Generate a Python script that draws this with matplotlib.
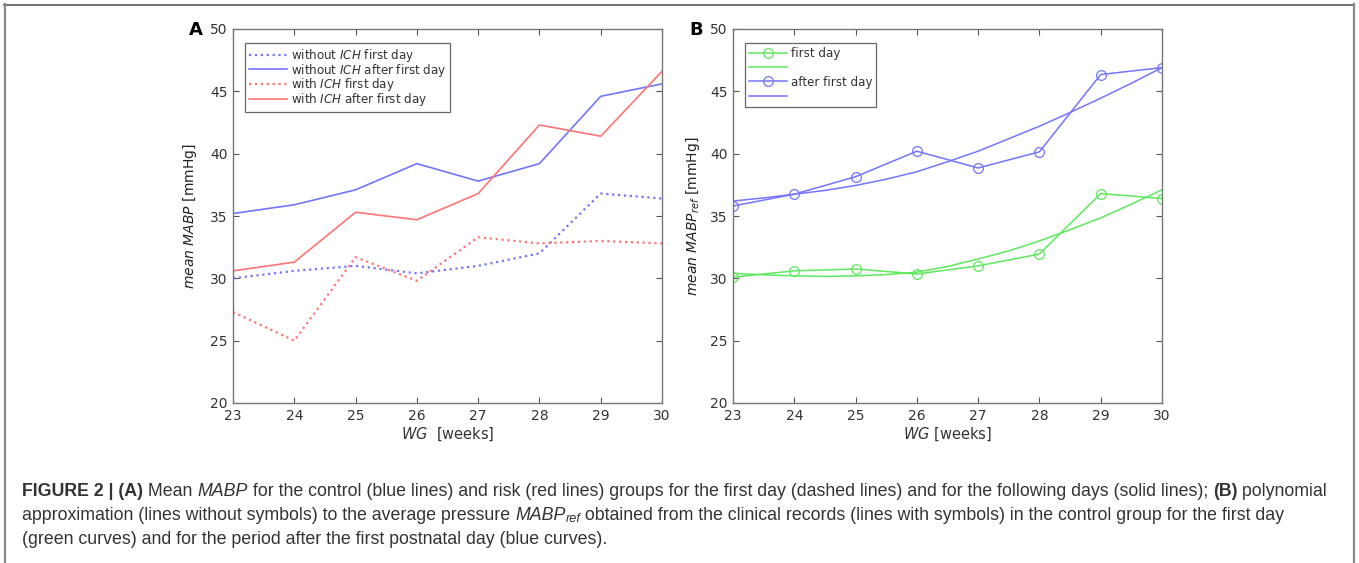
import matplotlib
matplotlib.use("Agg")
import matplotlib.pyplot as plt
from matplotlib.lines import Line2D

plt.rcParams["mathtext.fontset"] = "dejavusans"

W, H = 1359, 563

weeks = [23, 24, 25, 26, 27, 28, 29, 30]

# panel A
noICH_first = [30.0, 30.6, 31.0, 30.4, 31.0, 32.0, 36.8, 36.4]
noICH_after = [35.2, 35.9, 37.1, 39.2, 37.8, 39.2, 44.6, 45.6]
ICH_first = [27.3, 25.0, 31.7, 29.8, 33.3, 32.8, 33.0, 32.8]
ICH_after = [30.6, 31.3, 35.3, 34.7, 36.8, 42.3, 41.4, 46.6]

# panel B: clinical records and polynomial approximation
ref_first = [30.1, 30.6, 30.75, 30.35, 31.0, 31.95, 36.8, 36.4]
ref_after = [35.8, 36.75, 38.15, 40.2, 38.85, 40.15, 46.35, 46.9]
fit_weeks = [23, 23.5, 24, 24.5, 25, 25.5, 26, 26.5, 27, 27.5, 28, 28.5, 29, 29.5, 30]
fit_first = [30.4, 30.28, 30.2, 30.15, 30.2, 30.3, 30.5, 30.95, 31.55, 32.2, 33.0,
             33.9, 34.85, 35.95, 37.1]
fit_after = [36.2, 36.45, 36.75, 37.05, 37.45, 37.95, 38.55, 39.35, 40.2, 41.2, 42.2,
             43.3, 44.45, 45.65, 46.9]

BLUE = "#7474ff"
RED = "#ff7474"
GREEN = "#5ee85e"
AXC = "#555555"
TXT = "#333333"

fig = plt.figure(figsize=(W / 100, H / 100), dpi=100)


def px_axes(x0, x1, y0, y1):
    return fig.add_axes([x0 / W, 1 - y1 / H, (x1 - x0) / W, (y1 - y0) / H])


def style(ax):
    ax.set_xlim(23, 30)
    ax.set_ylim(20, 50)
    ax.set_xticks(weeks)
    ax.set_yticks([20, 25, 30, 35, 40, 45, 50])
    ax.tick_params(direction="in", top=True, right=True, length=4, width=0.8,
                   colors=AXC, labelcolor=TXT, labelsize=10, pad=4)
    for s in ax.spines.values():
        s.set_color("#777777")
        s.set_linewidth(1.0)


def legend(ax, spacing):
    leg = ax.legend(loc="upper left", bbox_to_anchor=(0.028, 0.962), fontsize=8.6,
                    frameon=True, fancybox=False, borderpad=0.3, labelspacing=spacing,
                    handlelength=3.2, handletextpad=0.35, borderaxespad=0)
    leg.get_frame().set_edgecolor("#444444")
    leg.get_frame().set_linewidth(0.9)
    for t in leg.get_texts():
        t.set_color(TXT)


axA = px_axes(233, 662, 29, 403)
axA.plot(weeks, noICH_first, ":", color=BLUE, lw=1.6, label="without $\\it{ICH}$ first day")
axA.plot(weeks, noICH_after, "-", color=BLUE, lw=1.2, label="without $\\it{ICH}$ after first day")
axA.plot(weeks, ICH_first, ":", color=RED, lw=1.6, label="with $\\it{ICH}$ first day")
axA.plot(weeks, ICH_after, "-", color=RED, lw=1.2, label="with $\\it{ICH}$ after first day")
style(axA)
legend(axA, -0.18)
axA.set_xlabel("$\\it{WG}$  [weeks]", fontsize=10.5, color=TXT, labelpad=2)
axA.set_ylabel("$\\it{mean\\ MABP}$ [mmHg]", fontsize=10, color="#222222", labelpad=8)

axB = px_axes(733, 1162, 29, 403)
axB.plot(weeks, ref_first, "-o", color=GREEN, lw=1.1, ms=7, mfc="none", mew=0.9,
         label="first day")
axB.plot(fit_weeks, fit_first, "-", color=GREEN, lw=1.1, label=" ")
axB.plot(weeks, ref_after, "-o", color=BLUE, lw=1.1, ms=7, mfc="none", mew=0.9,
         label="after first day")
axB.plot(fit_weeks, fit_after, "-", color=BLUE, lw=1.1, label="  ")
style(axB)
legend(axB, 0.12)
axB.set_xlabel("$\\it{WG}$ [weeks]", fontsize=10.5, color=TXT, labelpad=2)
axB.set_ylabel("$\\it{mean\\ MABP_{ref}}$ [mmHg]", fontsize=10, color="#222222", labelpad=6)

fig.text(189 / W, 1 - 30 / H, "A", fontsize=13, fontweight="bold", va="center")
fig.text(689 / W, 1 - 30 / H, "B", fontsize=13, fontweight="bold", va="center")

# caption, drawn run by run so bold / italic / subscript can mix in one font
cap_font = ["Liberation Sans Narrow", "Liberation Sans", "DejaVu Sans"]
cap_lines = [
    [("FIGURE 2 | (A)", "b"), (" Mean ", "n"), ("MABP", "i"),
     (" for the control (blue lines) and risk (red lines) groups for the first day "
      "(dashed lines) and for the following days (solid lines); ", "n"),
     ("(B)", "b"), (" polynomial", "n")],
    [("approximation (lines without symbols) to the average pressure ", "n"),
     ("MABP", "i"), ("ref", "s"),
     (" obtained from the clinical records (lines with symbols) in the control group "
      "for the first day", "n")],
    [("(green curves) and for the period after the first postnatal day (blue curves).", "n")],
]
cap_y = [491, 515, 539]
cap_x0 = 22
cap_width = 1310
renderer = fig.canvas.get_renderer()


def draw_runs(runs, y, size, draw=True):
    x = cap_x0
    for txt, kind in runs:
        kw = dict(family=cap_font, color="#333333", va="center", fontsize=size)
        yy = y
        if kind == "b":
            kw["fontweight"] = "bold"
        elif kind == "i":
            kw["fontstyle"] = "italic"
        elif kind == "s":
            kw["fontstyle"] = "italic"
            kw["fontsize"] = size * 0.72
            yy = y + 4
        t = fig.text(x / W, 1 - yy / H, txt, **kw)
        ext = t.get_window_extent(renderer)
        x += ext.width
        if not draw:
            t.remove()
    return x - cap_x0


# size the caption so that the first line fills the same width as the reference
base = 10.0
w0 = draw_runs(cap_lines[0], cap_y[0], base, draw=False)
cap_size = base * cap_width / w0
for runs, y in zip(cap_lines, cap_y):
    draw_runs(runs, y, cap_size)

# frame around the figure page
fig.add_artist(Line2D([4 / W, 1354 / W], [1 - 4.5 / H, 1 - 4.5 / H], color="#555555",
                      lw=1.2, transform=fig.transFigure))
fig.add_artist(Line2D([4.5 / W, 4.5 / W], [0, 1 - 4 / H], color="#888888",
                      lw=1.6, transform=fig.transFigure))
fig.add_artist(Line2D([1353.5 / W, 1353.5 / W], [0, 1 - 4 / H], color="#888888",
                      lw=1.6, transform=fig.transFigure))

fig.savefig("out.png", dpi=100)
